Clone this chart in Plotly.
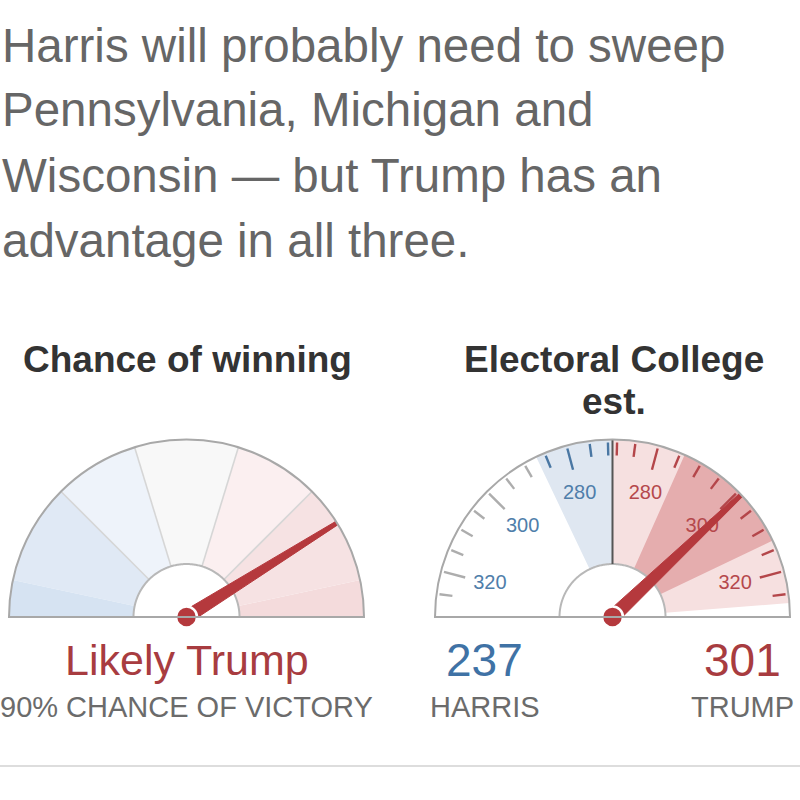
import numpy as np
import plotly.graph_objects as go

# ---------------- data ----------------
body_lines = [
    "Harris will probably need to sweep",
    "Pennsylvania, Michigan and",
    "Wisconsin — but Trump has an",
    "advantage in all three.",
]

chance_title = "Chance of winning"
chance_rating = "Likely Trump"
chance_pct = 90
# rating bands of the dial (dial degrees, right = Trump side)
chance_band_start = [0, 12, 45, 73, 107, 135, 168]
chance_band_end = [12, 45, 73, 107, 135, 168, 180]
chance_band_colors = ["#f4dbdc", "#f6e2e3", "#fbeff0", "#f8f8f8",
                      "#eef3fa", "#e0e9f5", "#d6e3f2"]
chance_dividers = [45, 73, 107, 135]
chance_needle_deg = 32

ec_title_lines = ["Electoral College", "est."]
harris_ev = 237
trump_ev = 301
ec_ticks = [271, 275, 280, 285, 290, 295, 300, 305, 310, 315, 320, 325]
ec_major = [280, 300, 320]
ec_labels = [280, 300, 320]
harris_band = [270, 287]        # shaded range on Harris side
trump_outer_band = [270, 327]   # light shaded range on Trump side
trump_inner_band = [286, 313]   # darker shaded range on Trump side

# ---------------- styling / geometry ----------------
FONT = "Liberation Sans, Arial, sans-serif"
R_OUT = 177.5
R_IN = 53
GREY_LINE = "#a8a8a8"
RED = "#b5393d"
BLUE_TXT = "#3f72a5"
RED_TXT = "#a83c40"


def ec_theta(ev, side):
    s = 1 if side == "harris" else -1
    return 90 + s * (ev - 270) * 1.5


def needle(theta, length, w_base, w_tip):
    pts_r = [w_base, np.hypot(length, w_tip), np.hypot(length, w_tip), w_base, w_base]
    d = np.degrees(np.arctan2(w_tip, length))
    pts_t = [theta + 90, theta + d, theta - d, theta - 90, theta + 90]
    return pts_r, pts_t


def segs(thetas, r0, r1):
    rr, tt = [], []
    for t in thetas:
        rr += [r0, r1, None]
        tt += [t, t, None]
    return rr, tt


fig = go.Figure()

# ---- left gauge: chance of winning ----
for a, b, c in zip(chance_band_start, chance_band_end, chance_band_colors):
    fig.add_trace(go.Barpolar(r=[R_OUT - R_IN], base=[R_IN], theta=[(a + b) / 2],
                              width=[b - a], marker=dict(color=c, line=dict(width=0)),
                              subplot="polar", hoverinfo="skip"))
rr, tt = segs(chance_dividers, R_IN, R_OUT)
fig.add_trace(go.Scatterpolar(r=rr, theta=tt, mode="lines",
                              line=dict(color="#d6d6d6", width=1.6), subplot="polar"))
arc_t = np.linspace(0, 180, 181)
fig.add_trace(go.Scatterpolar(r=[R_IN] * len(arc_t), theta=arc_t, mode="lines",
                              line=dict(color="#b8b8b8", width=2), subplot="polar"))
fig.add_trace(go.Scatterpolar(r=[R_OUT, R_OUT], theta=[180, 0], mode="lines",
                              line=dict(color=GREY_LINE, width=2), subplot="polar",
                              cliponaxis=False))
nr, nt = needle(chance_needle_deg, R_OUT - 1, 6.5, 2)
fig.add_trace(go.Scatterpolar(r=nr, theta=nt, mode="lines", fill="toself",
                              fillcolor=RED, line=dict(color=RED, width=1),
                              subplot="polar", cliponaxis=False))
fig.add_trace(go.Scatterpolar(r=[0], theta=[0], mode="markers",
                              marker=dict(size=21, color=RED, line=dict(color="white", width=2.5)),
                              subplot="polar", cliponaxis=False))

# ---- right gauge: electoral college ----
bands = [
    (ec_theta(harris_band[1], "harris"), ec_theta(harris_band[0], "harris"), "#dfe7f1"),
    (ec_theta(trump_outer_band[1], "trump"), ec_theta(trump_outer_band[0], "trump"), "#f6e0e0"),
    (ec_theta(trump_inner_band[1], "trump"), ec_theta(trump_inner_band[0], "trump"), "#e5adae"),
]
for a, b, c in bands:
    fig.add_trace(go.Barpolar(r=[R_OUT - R_IN], base=[R_IN], theta=[(a + b) / 2],
                              width=[abs(b - a)], marker=dict(color=c, line=dict(width=0)),
                              subplot="polar2", hoverinfo="skip"))

# ticks
groups = {"#4a77a3": [], "#adadad": [], "#b4464a": []}
for ev in ec_ticks:
    length = 22 if ev in ec_major else 13
    col = "#4a77a3" if ev <= harris_band[1] else "#adadad"
    groups[col].append((ec_theta(ev, "harris"), length))
    col = "#b4464a" if ev <= trump_outer_band[1] else "#adadad"
    groups[col].append((ec_theta(ev, "trump"), length))
for col, items in groups.items():
    rr, tt = [], []
    for t, ln in items:
        rr += [R_OUT - 3 - ln, R_OUT - 3, None]
        tt += [t, t, None]
    fig.add_trace(go.Scatterpolar(r=rr, theta=tt, mode="lines",
                                  line=dict(color=col, width=2.4), subplot="polar2"))

fig.add_trace(go.Scatterpolar(r=[R_IN] * len(arc_t), theta=arc_t, mode="lines",
                              line=dict(color="#b8b8b8", width=2), subplot="polar2"))
fig.add_trace(go.Scatterpolar(r=[R_IN, R_OUT], theta=[90, 90], mode="lines",
                              line=dict(color="#555555", width=2), subplot="polar2"))
fig.add_trace(go.Scatterpolar(r=[127] * len(ec_labels),
                              theta=[ec_theta(v, "harris") for v in ec_labels],
                              text=[str(v) for v in ec_labels], mode="text",
                              textfont=dict(family=FONT, size=20, color="#4f7eaa"),
                              subplot="polar2"))
fig.add_trace(go.Scatterpolar(r=[127] * len(ec_labels),
                              theta=[ec_theta(v, "trump") for v in ec_labels],
                              text=[str(v) for v in ec_labels], mode="text",
                              textfont=dict(family=FONT, size=20, color="#b5484c"),
                              subplot="polar2"))
fig.add_trace(go.Scatterpolar(r=[R_OUT, R_OUT], theta=[180, 0], mode="lines",
                              line=dict(color=GREY_LINE, width=2), subplot="polar2",
                              cliponaxis=False))
nr, nt = needle(ec_theta(trump_ev, "trump"), R_OUT - 1, 7, 2.2)
fig.add_trace(go.Scatterpolar(r=nr, theta=nt, mode="lines", fill="toself",
                              fillcolor=RED, line=dict(color=RED, width=1),
                              subplot="polar2", cliponaxis=False))
fig.add_trace(go.Scatterpolar(r=[0], theta=[0], mode="markers",
                              marker=dict(size=21, color=RED, line=dict(color="white", width=2.5)),
                              subplot="polar2", cliponaxis=False))

polar_common = dict(
    sector=[0, 180], bgcolor="white", hole=0,
    radialaxis=dict(visible=False, range=[0, R_OUT]),
    angularaxis=dict(showline=True, linecolor=GREY_LINE, linewidth=2, showgrid=False,
                     ticks="", showticklabels=False, rotation=0,
                     direction="counterclockwise"),
)


def px(x):
    return x / 800


def py(y):
    return 1 - y / 800


fig.update_layout(
    width=800, height=800, margin=dict(l=0, r=0, t=0, b=0),
    paper_bgcolor="white", plot_bgcolor="white", showlegend=False,
    polar=dict(domain=dict(x=[px(9), px(364)], y=[py(617), py(439.5)]), **polar_common),
    polar2=dict(domain=dict(x=[px(435), px(790)], y=[py(617), py(439.5)]), **polar_common),
)

ann = []
for i, line in enumerate(body_lines):
    ann.append(dict(text=line, x=px(0), y=py(45 + 65 * i), xanchor="left", yanchor="middle",
                    font=dict(family=FONT, size=47.5, color="#666666")))
ann.append(dict(text="<b>" + chance_title + "</b>", x=px(187), y=py(360),
                font=dict(family=FONT, size=37, color="#333333")))
ann.append(dict(text="<b>" + ec_title_lines[0] + "</b>", x=px(614), y=py(360),
                font=dict(family=FONT, size=37, color="#333333")))
ann.append(dict(text="<b>" + ec_title_lines[1] + "</b>", x=px(614), y=py(401),
                font=dict(family=FONT, size=37, color="#333333")))
ann.append(dict(text=chance_rating, x=px(187), y=py(660),
                font=dict(family=FONT, size=43, color=RED_TXT)))
ann.append(dict(text=f"{chance_pct}% CHANCE OF VICTORY", x=px(186), y=py(707),
                font=dict(family=FONT, size=29, color="#6b6b6b")))
ann.append(dict(text=str(harris_ev), x=px(485), y=py(660),
                font=dict(family=FONT, size=46, color=BLUE_TXT)))
ann.append(dict(text="HARRIS", x=px(485), y=py(707),
                font=dict(family=FONT, size=29, color="#6b6b6b")))
ann.append(dict(text=str(trump_ev), x=px(742), y=py(660),
                font=dict(family=FONT, size=46, color=RED_TXT)))
ann.append(dict(text="TRUMP", x=px(742), y=py(707),
                font=dict(family=FONT, size=29, color="#6b6b6b")))
for a in ann:
    a.update(xref="paper", yref="paper", showarrow=False)
    a.setdefault("xanchor", "center")
    a.setdefault("yanchor", "middle")
fig.update_layout(annotations=ann)

fig.add_shape(type="line", xref="paper", yref="paper", x0=0, x1=1, y0=py(766), y1=py(766),
              line=dict(color="#dddddd", width=2))

fig.write_html("out.html", config={"displayModeBar": False},
               post_script="document.body.style.margin='0';")
